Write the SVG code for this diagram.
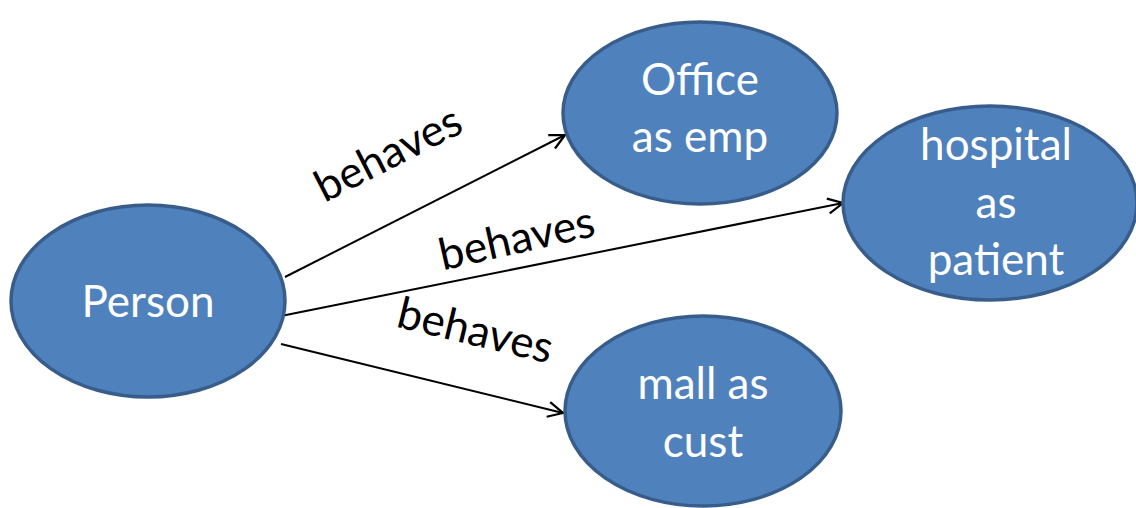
<svg xmlns="http://www.w3.org/2000/svg" width="1136" height="508" viewBox="0 0 1136 508">
  <style>
    .node { fill: #4F81BD; stroke: #385D8A; stroke-width: 3.5; }
    .ntext { font-family: Lato, "Open Sans", "Liberation Sans", sans-serif; font-size: 44px; fill: #FFFFFF; text-anchor: middle; }
    .edge { stroke: #000000; stroke-width: 2; fill: none; marker-end: url(#arrow); }
    .elabel { font-family: Lato, "Open Sans", "Liberation Sans", sans-serif; font-size: 44px; fill: #000000; text-anchor: middle; }
  </style>
  <defs>
    <marker id="arrow" markerUnits="userSpaceOnUse" markerWidth="30" markerHeight="30" viewBox="-20 -15 30 30" refX="0" refY="0" orient="auto">
      <path d="M-15,-7.5 L0,0 L-15,7.5" fill="none" stroke="#000000" stroke-width="2.2"/>
    </marker>
  </defs>

  <rect width="1136" height="508" fill="#FFFFFF"/>

  <!-- connectors -->
  <g id="connectors">
    <line class="edge" x1="285" y1="277" x2="565" y2="135"/>
    <line class="edge" x1="281" y1="316" x2="843" y2="203"/>
    <line class="edge" x1="281" y1="344" x2="563" y2="413"/>
    <text class="elabel" transform="translate(395,167) rotate(-27)">behaves</text>
    <text class="elabel" transform="translate(520,253) rotate(-12.7)">behaves</text>
    <text class="elabel" transform="translate(472,345) rotate(13.6)">behaves</text>
  </g>

  <g id="person">
    <ellipse class="node" cx="148" cy="301" rx="137" ry="96"/>
    <text class="ntext" x="148" y="317">Person</text>
  </g>

  <g id="office">
    <ellipse class="node" cx="700" cy="113" rx="137" ry="91"/>
    <text class="ntext" x="700" y="95">Office</text>
    <text class="ntext" x="700" y="152">as emp</text>
  </g>

  <g id="hospital">
    <ellipse class="node" cx="990" cy="203" rx="147" ry="97"/>
    <text class="ntext" x="996" y="160">hospital</text>
    <text class="ntext" x="996" y="218">as</text>
    <text class="ntext" x="996" y="275">patient</text>
  </g>

  <g id="mall">
    <ellipse class="node" cx="703" cy="411" rx="138" ry="95"/>
    <text class="ntext" x="703" y="399">mall as</text>
    <text class="ntext" x="703" y="457">cust</text>
  </g>
</svg>
